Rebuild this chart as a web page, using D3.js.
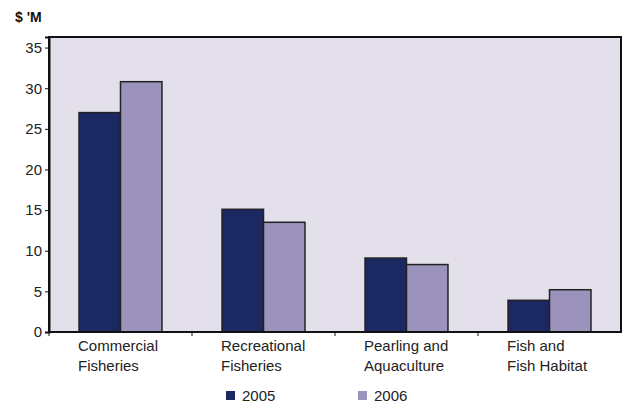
<!DOCTYPE html>
<html>
<head>
<meta charset="utf-8">
<script src="https://cdn.jsdelivr.net/npm/d3@7"></script>
<style>
  body { margin: 0; background: #fff; }
  text { font-family: "Liberation Sans", Arial, sans-serif; }
</style>
</head>
<body>
<div id="dataViz"></div>
<script>
//DATA
let categories = [
  ["Commercial", "Fisheries"],
  ["Recreational", "Fisheries"],
  ["Pearling and", "Aquaculture"],
  ["Fish and", "Fish Habitat"]
];
let seriesNames = ["2005", "2006"];
let values2005 = [27, 15.1, 9.1, 3.9];
let values2006 = [30.8, 13.5, 8.3, 5.2];
let yTicks = [0, 5, 10, 15, 20, 25, 30, 35];
let colors = ["#1b2862", "#9b93bb"];

//DIMENSIONS
let WIDTH = 624,
  HEIGHT = 403,
  PLOT = { left: 49, right: 621, top: 37, bottom: 332 };

let svg = d3
  .select("#dataViz")
  .append("svg")
  .attr("width", WIDTH)
  .attr("height", HEIGHT);

let table = categories.map((c, i) => ({ cat: i, v: [values2005[i], values2006[i]] }));

//SCALES
let xScale = d3
  .scaleBand()
  .domain(d3.range(categories.length))
  .range([PLOT.left, PLOT.right])
  .paddingInner(0.42)
  .paddingOuter(0.21);
let xInner = d3.scaleBand().domain([0, 1]).range([0, xScale.bandwidth()]);
let yScale = d3.scaleLinear().domain([0, 36.3]).range([PLOT.bottom, PLOT.top]);

//Plot background
svg
  .append("rect")
  .attr("x", PLOT.left)
  .attr("y", PLOT.top)
  .attr("width", PLOT.right - PLOT.left)
  .attr("height", PLOT.bottom - PLOT.top)
  .attr("fill", "#e3e0eb")
  .attr("stroke", "#111")
  .attr("stroke-width", 2);

//BARS
svg
  .append("g")
  .selectAll("g")
  .data(table)
  .enter()
  .append("g")
  .attr("transform", (d) => `translate(${xScale(d.cat)},0)`)
  .selectAll("rect")
  .data((d) => d.v)
  .enter()
  .append("rect")
  .attr("x", (d, i) => xInner(i))
  .attr("y", (d) => yScale(d))
  .attr("width", xInner.bandwidth())
  .attr("height", (d) => yScale(0) - yScale(d))
  .attr("fill", (d, i) => colors[i])
  .attr("stroke", "#222")
  .attr("stroke-width", 1.5);

//Y-AXIS
let yAxis = svg
  .append("g")
  .attr("transform", `translate(${PLOT.left},0)`)
  .call(d3.axisLeft(yScale).tickValues(yTicks).tickSize(4).tickPadding(3));
yAxis.select(".domain").attr("stroke", "#111").attr("stroke-width", 2);
yAxis.selectAll("line").attr("stroke", "#111");
yAxis.selectAll("text").attr("font-size", 15).attr("fill", "#222").attr("font-family", "Liberation Sans, Arial, sans-serif");

//X-AXIS (separator ticks)
let step = xScale.step();
let xAxis = svg.append("g");
xAxis
  .append("line")
  .attr("x1", PLOT.left)
  .attr("x2", PLOT.right)
  .attr("y1", PLOT.bottom)
  .attr("y2", PLOT.bottom)
  .attr("stroke", "#111")
  .attr("stroke-width", 2);
xAxis
  .selectAll(".sep")
  .data(d3.range(categories.length))
  .enter()
  .append("line")
  .attr("x1", (d) => PLOT.left + d * step)
  .attr("x2", (d) => PLOT.left + d * step)
  .attr("y1", PLOT.bottom)
  .attr("y2", PLOT.bottom + 4)
  .attr("stroke", "#111");

//Category labels
let labels = svg
  .append("g")
  .selectAll("text")
  .data(categories)
  .enter()
  .append("text")
  .attr("x", (d, i) => xScale(i) - 1)
  .attr("y", PLOT.bottom + 19)
  .attr("font-size", 15)
  .attr("fill", "#222");
labels
  .selectAll("tspan")
  .data((d) => d)
  .enter()
  .append("tspan")
  .attr("x", function () {
    return d3.select(this.parentNode).attr("x");
  })
  .attr("dy", (d, i) => (i === 0 ? 0 : 20))
  .text((d) => d);

//Unit label
svg
  .append("text")
  .attr("x", 15)
  .attr("y", 22)
  .attr("font-size", 14)
  .attr("font-weight", "bold")
  .attr("fill", "#111")
  .text("$ 'M");

//LEGEND
let legendX = [226, 358];
let legend = svg
  .append("g")
  .selectAll("g")
  .data(seriesNames)
  .enter()
  .append("g")
  .attr("transform", (d, i) => `translate(${legendX[i]},390)`);
legend
  .append("rect")
  .attr("width", 9)
  .attr("height", 9)
  .attr("y", 1)
  .attr("fill", (d, i) => colors[i]);
legend
  .append("text")
  .attr("x", 16)
  .attr("y", 11)
  .attr("font-size", 15)
  .attr("fill", "#222")
  .text((d) => d);
</script>
</body>
</html>
